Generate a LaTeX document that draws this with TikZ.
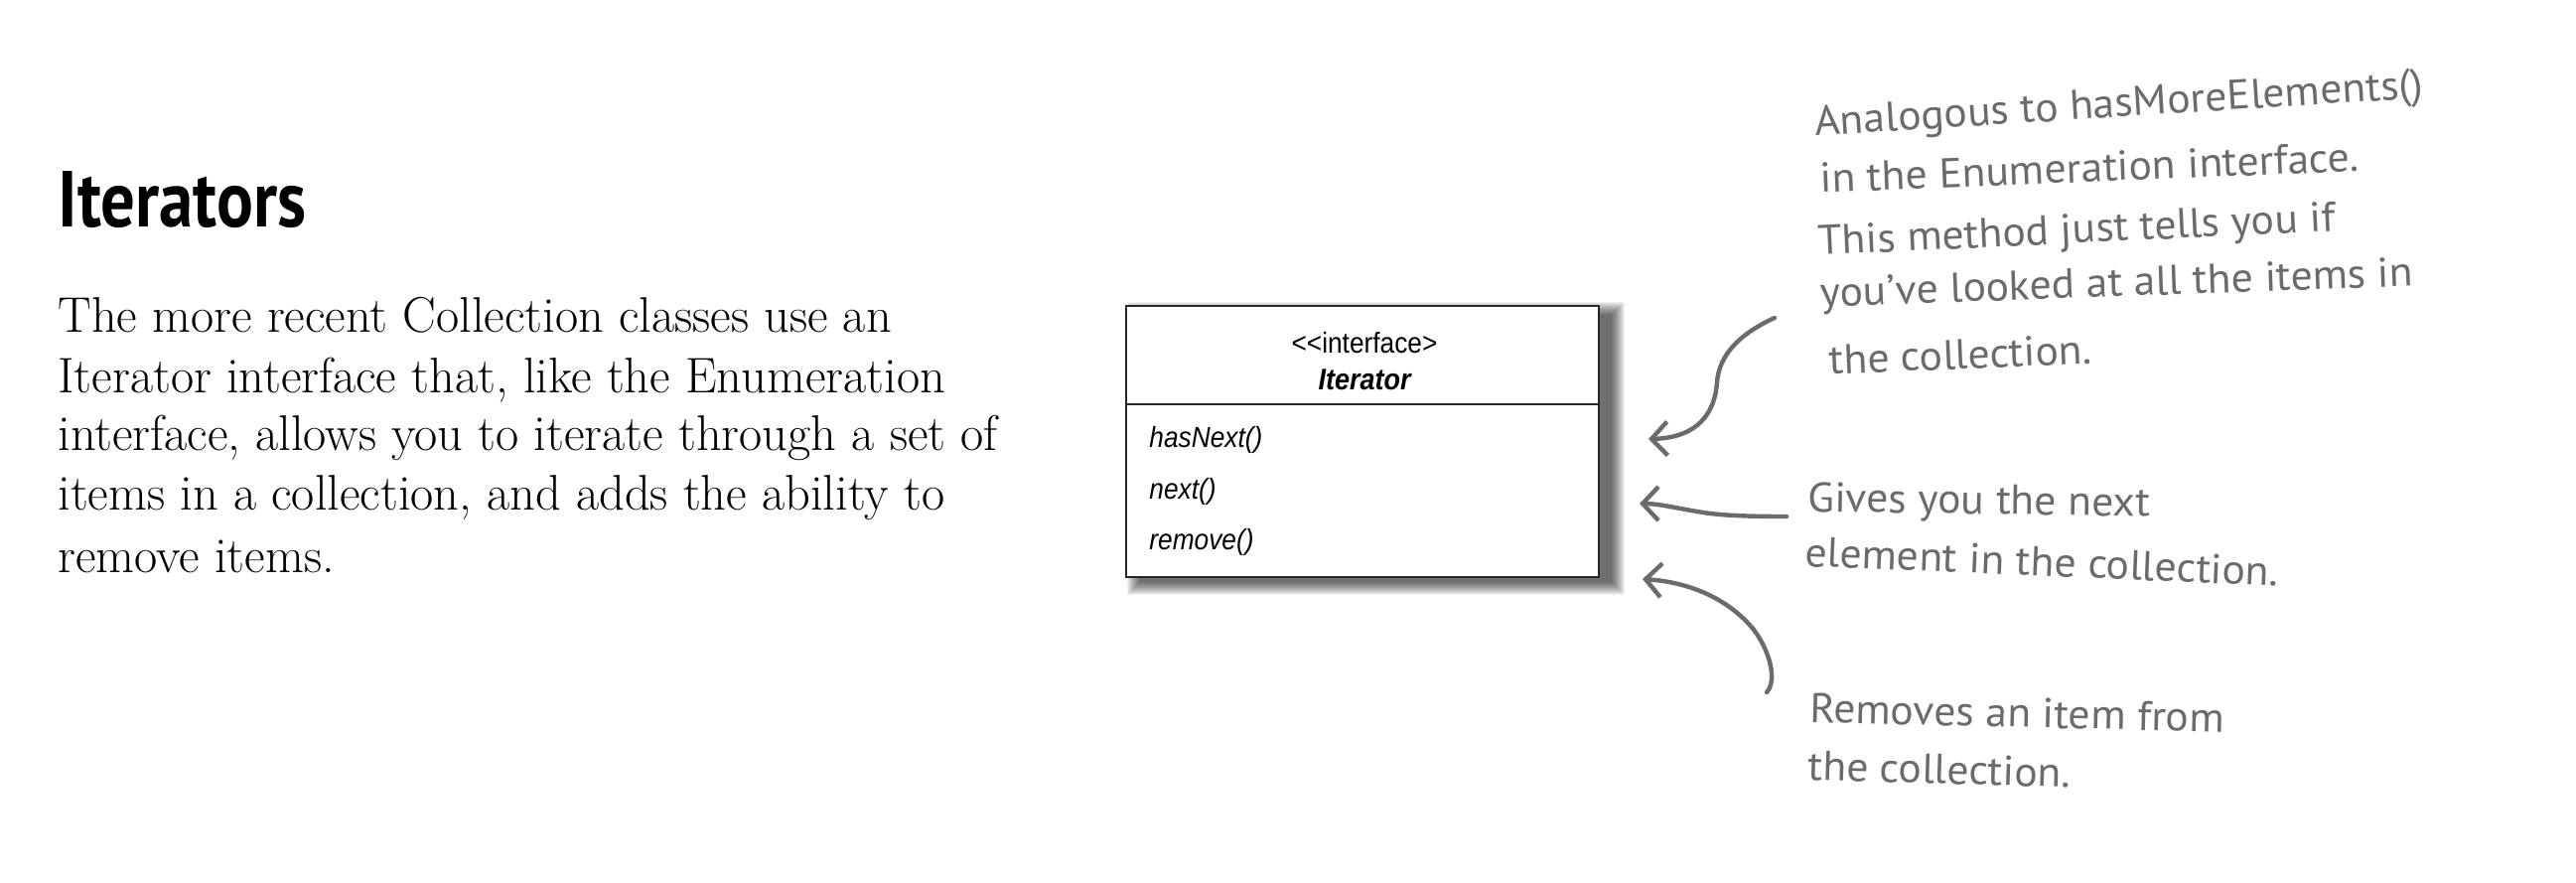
\documentclass[tikz,border=0pt]{standalone}
\usepackage{fontspec}
\usetikzlibrary{arrows.meta}
\newfontfamily\titlefont[FakeStretch=0.86]{PT Sans}
\newfontfamily\umlfont[FakeStretch=0.9]{Liberation Sans}
\newfontfamily\handfont[FakeStretch=1.04]{PT Sans}
\definecolor{pen}{gray}{0.42}
\tikzset{
  titletext/.style={anchor=base west, inner sep=0pt, font=\titlefont\bfseries\fontsize{40}{40}\selectfont},
  bodytext/.style={anchor=base west, inner sep=0pt, font=\fontsize{25.2}{30}\selectfont},
  notetext/.style={anchor=base west, inner sep=0pt, text=pen, font=\handfont\fontsize{21}{24}\selectfont},
  umltext/.style={inner sep=0pt, font=\umlfont\fontsize{14.6}{17}\selectfont},
  umlname/.style={inner sep=0pt, font=\umlfont\bfseries\itshape\fontsize{15}{17}\selectfont},
  umlop/.style={anchor=base west, inner sep=0pt, font=\umlfont\itshape\fontsize{14.6}{17}\selectfont},
  pointer/.style={draw=pen, line width=2.2pt, line cap=round, line join=round,
    -{Straight Barb[length=8pt,width=17pt]}},
}
\begin{document}
\begin{tikzpicture}[x=0.5pt,y=-0.5pt]
\useasboundingbox[fill=white] (0,0) rectangle (2594,888);

% heading and body text
\node[titletext] (title) at (58,228) {Iterators};
\node[bodytext] (b1) at (58,334) {The more recent Collection classes use an};
\node[bodytext] (b2) at (58,395) {Iterator interface that, like the Enumeration};
\node[bodytext] (b3) at (58,453) {interface, allows you to iterate through a set of};
\node[bodytext] (b4) at (58,513) {items in a collection, and adds the ability to};
\node[bodytext] (b5) at (58,576) {remove items.};

% shadow of the class box
\foreach \i in {0,...,13} {
  \fill[black, opacity=0.055] (1134+14-\i, 308+9-\i) rectangle (1610+13+\i, 581+5+\i);
}
% class box
\node[draw=black!85, line width=1pt, fill=white, minimum width=238pt,
  minimum height=136.5pt, inner sep=0pt] (box) at (1372,444.5) {};
\coordinate (div) at (0,407);
\draw[line width=1pt, black!85] (box.west |- div) -- (box.east |- div);
\node[umltext, anchor=base] (stereo) at (1374,355) {<\kern0pt<interface>};
\node[umlname, anchor=base] (cname) at (1374,392) {Iterator};
\node[umlop] (m1) at (1157,450) {hasNext()};
\node[umlop] (m2) at (1157,502) {next()};
\node[umlop] (m3) at (1157,553) {remove()};

% annotations
\node[notetext, rotate=3.6] (n1a) at (1828,137) {Analogous to hasMoreElements()};
\node[notetext, rotate=2.3] (n1b) at (1833,194) {in the Enumeration interface.};
\node[notetext, rotate=2.7] (n1c) at (1831,257) {This method just tells you if};
\node[notetext, rotate=2.0] (n1d) at (1833,309) {you’ve looked at all the items in};
\node[notetext, rotate=2.4] (n1e) at (1842,377) {the collection.};

\node[notetext, rotate=-0.8] (n2a) at (1820,515) {Gives you the next};
\node[notetext, rotate=-2.4] (n2b) at (1817,570) {element in the collection.};

\node[notetext, rotate=-1.4] (n3a) at (1822,727) {Removes an item from};
\node[notetext, rotate=-1.7] (n3b) at (1820,785) {the collection.};

% arrows
\coordinate (a1s) at (1787,320);
\coordinate (a1e) at (1660,442);
\coordinate (a2s) at (1799,520);
\coordinate (a2e) at (1651,507);
\coordinate (a3s) at (1779,697);
\coordinate (a3e) at (1654,583);
\draw[pointer] (a1s) .. controls (1752,336) and (1731,357) .. (1729,385)
  .. controls (1726,425) and (1700,441) .. (a1e);
\draw[pointer] (a2s) .. controls (1760,520) and (1735,519) .. (1715,516)
  .. controls (1690,512) and (1670,507) .. (a2e);
\draw[pointer] (a3s) .. controls (1790,685) and (1782,655) .. (1766,634)
  .. controls (1740,602) and (1700,586) .. (a3e);
\end{tikzpicture}
\end{document}
